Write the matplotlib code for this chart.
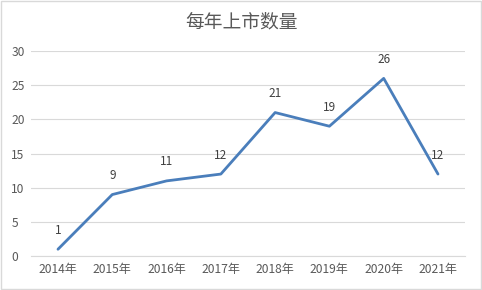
import matplotlib.pyplot as plt
from matplotlib.patches import Rectangle

plt.rcParams['font.family'] = ['Noto Sans CJK SC', 'DejaVu Sans']

years = ['2014年', '2015年', '2016年', '2017年', '2018年', '2019年', '2020年', '2021年']
counts = [1, 9, 11, 12, 21, 19, 26, 12]
yticks = [0, 5, 10, 15, 20, 25, 30]

text_color = '#595959'
grid_color = '#D9D9D9'
line_color = '#4A7EBB'

fig = plt.figure(figsize=(4.82, 2.90), dpi=100)
ax = fig.add_axes([0.064, 0.117, 0.901, 0.707])

x = list(range(len(years)))
ax.plot(x, counts, color=line_color, linewidth=2.0, solid_capstyle='round', solid_joinstyle='round', zorder=3)

# data labels above each point
for xi, v in zip(x, counts):
    ax.annotate(str(v), (xi, v), xytext=(0, 9), textcoords='offset points',
                ha='center', va='bottom', fontsize=8.5, color='#404040')

ax.set_xlim(-0.5, len(years) - 0.5)
ax.set_ylim(0, 30)
ax.set_yticks(yticks)
ax.set_xticks(x)
ax.set_xticklabels(years)
ax.tick_params(axis='both', length=0, labelsize=8.7, colors=text_color)
ax.tick_params(axis='y', pad=14)
ax.tick_params(axis='x', pad=5)
for lbl in ax.get_yticklabels():
    lbl.set_horizontalalignment('left')

ax.grid(axis='y', color=grid_color, linewidth=0.8)
ax.set_axisbelow(True)
for s in ['top', 'right', 'left']:
    ax.spines[s].set_visible(False)
ax.spines['bottom'].set_color(grid_color)
ax.spines['bottom'].set_linewidth(0.8)

fig.text(0.5, 0.925, '每年上市数量', ha='center', va='center', fontsize=13.5, color=text_color)
fig.patches.append(Rectangle((0.002, 0.003), 0.995, 0.993, transform=fig.transFigure,
                             fill=False, edgecolor=grid_color, linewidth=1.0))

fig.savefig('out.png', dpi=100)
